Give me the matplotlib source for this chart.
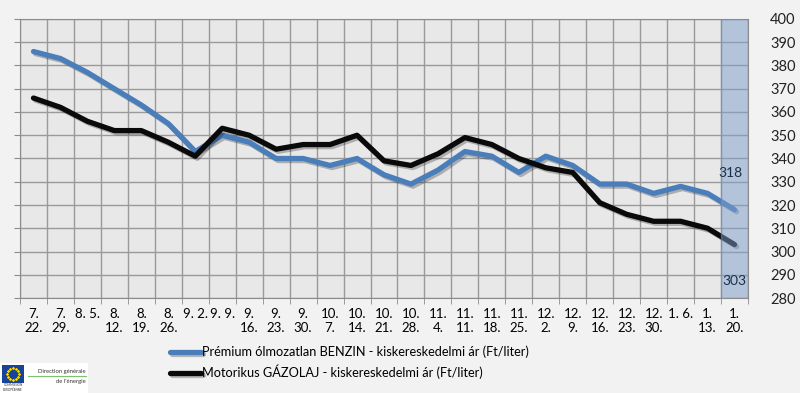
import numpy as np
import matplotlib
matplotlib.use("Agg")
import matplotlib.pyplot as plt
import matplotlib.patheffects as pe
from matplotlib.patches import Rectangle

plt.rcParams['font.family'] = ['Lato', 'DejaVu Sans']

dates = ["7.\n22.", "7.\n29.", "8. 5.", "8.\n12.", "8.\n19.", "8.\n26.", "9. 2.", "9. 9.",
         "9.\n16.", "9.\n23.", "9.\n30.", "10.\n7.", "10.\n14.", "10.\n21.", "10.\n28.",
         "11.\n4.", "11.\n11.", "11.\n18.", "11.\n25.", "12.\n2.", "12.\n9.", "12.\n16.",
         "12.\n23.", "12.\n30.", "1. 6.", "1.\n13.", "1.\n20."]
benzin = [386, 383, 377, 370, 363, 355, 343, 350, 347, 340, 340, 337, 340, 333, 329,
          335, 343, 341, 334, 341, 337, 329, 329, 325, 328, 325, 318]
gazolaj = [366, 362, 356, 352, 352, 347, 341, 353, 350, 344, 346, 346, 350, 339, 337,
           342, 349, 346, 340, 336, 334, 321, 316, 313, 313, 310, 303]
benzin_label = "Prémium ólmozatlan BENZIN - kiskereskedelmi ár (Ft/liter)"
gazolaj_label = "Motorikus GÁZOLAJ - kiskereskedelmi ár (Ft/liter)"

fig = plt.figure(figsize=(8, 3.93), dpi=100, facecolor='#f2f2f2')
ax = fig.add_axes([0.025, 0.2417, 0.91, 0.71])
ax.set_facecolor('#e8e8e8')

x = np.arange(len(dates))
shadow = [pe.SimpleLineShadow(offset=(1.5, -1.5), alpha=0.25, shadow_color='k'), pe.Normal()]
ax.plot(x, benzin, color='#4a7ebb', lw=3.8, solid_capstyle='round', solid_joinstyle='round',
        label=benzin_label, path_effects=shadow, zorder=3)
ax.plot(x, gazolaj, color='#0a0a0a', lw=3.8, solid_capstyle='round', solid_joinstyle='round',
        label=gazolaj_label, path_effects=shadow, zorder=3)

# kiemelt utolsó hét
last = len(dates) - 1
ax.axvspan(last - 0.5, last + 0.5, facecolor='#7f9fcc', alpha=0.5, edgecolor='#6f8fbf', lw=1, zorder=4)

ax.annotate(str(benzin[-1]), (last, benzin[-1]), xytext=(-3, 22), textcoords='offset points',
            ha='center', va='bottom', fontsize=10, color='#1a2f4a', zorder=5)
ax.annotate(str(gazolaj[-1]), (last, gazolaj[-1]), xytext=(0, -22), textcoords='offset points',
            ha='center', va='top', fontsize=10, color='#1a2f4a', zorder=5)

ax.set_xlim(-0.5, last + 0.5)
ax.set_ylim(280, 400)
ax.set_xticks(x)
ax.set_xticklabels(dates, fontsize=9.5, linespacing=1.2)
ax.set_xticks(np.arange(-0.5, last + 1, 1), minor=True)
ax.set_yticks(np.arange(280, 401, 10))
ax.tick_params(axis='x', which='major', length=0, pad=7, colors='#000000')
ax.tick_params(axis='x', which='minor', length=4, color='#8c8c8c', direction='out')
ax.tick_params(axis='y', left=True, right=False, labelleft=False, labelright=True,
               length=4, color='#8c8c8c', labelsize=10.5, pad=12, labelcolor='#222222')
ax.grid(True, which='minor', axis='x', color='#9a9a9a', lw=1)
ax.grid(True, which='major', axis='y', color='#9a9a9a', lw=1)
ax.set_axisbelow(True)
for s in ax.spines.values():
    s.set_color('#8c8c8c')

fig.legend(loc='upper left', bbox_to_anchor=(0.206, 0.133), frameon=False, fontsize=9.2,
           handlelength=2.4, handletextpad=0.1, labelspacing=0.5, borderaxespad=0)

# logó
la = fig.add_axes([0, 0, 0.11, 0.077])
la.set_xlim(0, 88)
la.set_ylim(30, 0)
la.axis('off')
la.add_patch(Rectangle((0, 0), 88, 30, facecolor='white', edgecolor='none'))
la.add_patch(Rectangle((2, 2), 22, 18, facecolor='#17449a', edgecolor='none'))
ang = np.linspace(0, 2 * np.pi, 13)[:-1]
la.scatter(13 + 6 * np.cos(ang), 11 + 6 * np.sin(ang), s=0.8, color='#ffdd00', marker='*')
la.text(13, 24.5, "COMMISSION\nEUROPÉENNE", fontsize=2.2, ha='center', va='center', color='#333')
la.text(86, 9, "Direction générale", fontsize=4.2, ha='right', va='center', color='#333')
la.plot([28, 86], [13, 13], color='#7cc36b', lw=0.8)
la.text(86, 18.5, "de l'énergie", fontsize=4.2, ha='right', va='center', color='#333')

fig.savefig('out.png', dpi=100, facecolor=fig.get_facecolor())
